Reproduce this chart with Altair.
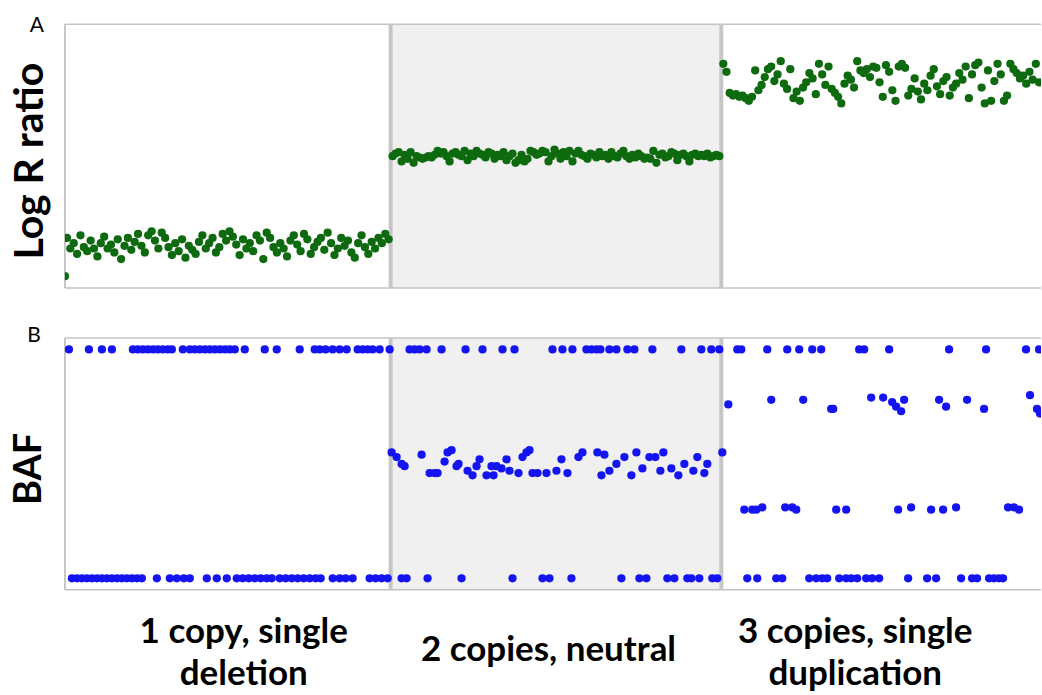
import altair as alt
import numpy as np
import pandas as pd

# ---------------- data ----------------
# region boundaries along the genomic position axis (arbitrary units)
region_edges = [0, 326, 657, 977]
region_labels = ["1 copy, single\ndeletion", "2 copies, neutral", "3 copies, single\nduplication"]

# Log R ratio values, one list per region (probes evenly spaced)
lrr_r1 = [-0.62, -0.70, -0.66, -0.74, -0.60, -0.69, -0.72, -0.64, -0.70, -0.76,
          -0.66, -0.61, -0.70, -0.67, -0.73, -0.63, -0.78, -0.68, -0.62, -0.71,
          -0.65, -0.59, -0.68, -0.73, -0.60, -0.57, -0.64, -0.70, -0.58, -0.62,
          -0.69, -0.75, -0.66, -0.72, -0.63, -0.77, -0.68, -0.71, -0.74, -0.65,
          -0.60, -0.70, -0.66, -0.62, -0.73, -0.69, -0.59, -0.64, -0.57, -0.61,
          -0.67, -0.75, -0.63, -0.70, -0.66, -0.72, -0.60, -0.64, -0.78, -0.58,
          -0.62, -0.69, -0.73, -0.66, -0.70, -0.76, -0.64, -0.60, -0.67, -0.72,
          -0.59, -0.63, -0.74, -0.69, -0.65, -0.62, -0.71, -0.58, -0.66, -0.75,
          -0.70, -0.62, -0.68, -0.64, -0.73, -0.77, -0.66, -0.60, -0.69, -0.74,
          -0.65, -0.70, -0.62, -0.66, -0.59, -0.63]
lrr_r2 = [0.00, 0.02, 0.03, -0.04, 0.01, -0.02, 0.03, -0.05, 0.00, -0.01,
          -0.02, -0.01, 0.00, -0.01, 0.01, 0.04, 0.02, 0.03, 0.00, -0.04,
          0.02, 0.03, 0.01, 0.00, 0.04, -0.03, 0.02, 0.00, 0.04, 0.02,
          0.01, -0.01, 0.03, 0.02, -0.02, 0.01, 0.00, 0.03, -0.03, 0.00,
          0.02, -0.05, -0.03, 0.01, -0.04, -0.02, 0.04, 0.03, 0.01, 0.02,
          0.04, 0.03, -0.04, 0.00, 0.05, 0.02, -0.02, 0.03, 0.00, 0.04,
          -0.04, 0.02, 0.04, 0.01, 0.00, -0.02, 0.02, 0.01, -0.01, 0.03,
          0.00, 0.01, -0.02, 0.03, 0.00, -0.01, 0.02, 0.04, 0.00, -0.02,
          0.01, -0.01, 0.02, 0.00, -0.02, -0.01, -0.02, 0.04, -0.05, 0.01,
          0.02, -0.01, 0.00, 0.03, 0.02, -0.03, 0.01, 0.02, 0.00, -0.04,
          0.01, 0.02, 0.00, 0.01, 0.00, 0.02, -0.01, 0.00, 0.01, 0.00]
lrr_r3 = [0.70, 0.64, 0.48, 0.46, 0.47, 0.45, 0.46, 0.44, 0.42, 0.45,
          0.65, 0.50, 0.54, 0.60, 0.66, 0.68, 0.57, 0.62, 0.72, 0.55,
          0.51, 0.66, 0.44, 0.49, 0.42, 0.52, 0.56, 0.63, 0.59, 0.47,
          0.70, 0.62, 0.54, 0.68, 0.51, 0.48, 0.45, 0.40, 0.55, 0.61,
          0.58, 0.52, 0.72, 0.65, 0.63, 0.66, 0.60, 0.68, 0.67, 0.56,
          0.45, 0.69, 0.64, 0.50, 0.42, 0.68, 0.70, 0.67, 0.46, 0.51,
          0.59, 0.49, 0.43, 0.55, 0.50, 0.61, 0.66, 0.53, 0.47, 0.57,
          0.60, 0.46, 0.52, 0.55, 0.63, 0.58, 0.68, 0.44, 0.62, 0.69,
          0.71, 0.52, 0.40, 0.65, 0.42, 0.57, 0.70, 0.62, 0.42, 0.46,
          0.70, 0.66, 0.63, 0.59, 0.61, 0.55, 0.64, 0.58, 0.70, 0.56]
lrr_extra_pos = [0]
lrr_extra_val = [-0.91]

# B allele frequency
baf_one_pos = [4, 24, 37, 47, 68, 73, 78, 83, 88, 93, 98, 103, 107, 118, 125, 130, 135, 140,
               145, 150, 155, 160, 165, 170, 180, 200, 212, 235, 250, 255, 261, 268, 275, 282,
               293, 298, 303, 308, 315, 325,
               345, 350, 355, 362, 377, 401, 418, 438, 450, 488, 498, 508, 522, 527, 532, 536,
               545, 552, 563, 570, 588, 617, 637, 647, 655,
               673, 677, 703, 723, 735, 748, 757, 795, 800, 825, 885, 922, 962, 975]
baf_zero_pos = [7, 12, 17, 22, 27, 32, 37, 42, 47, 52, 57, 62, 67, 72, 77, 92, 105, 112, 119,
                125, 142, 152, 162, 172, 178, 184, 190, 196, 202, 207, 215, 221, 227, 233, 239,
                245, 251, 256, 268, 275, 281, 288, 305, 311, 317, 323,
                337, 342, 363, 397, 448, 478, 485, 507, 557, 575, 582, 603, 610, 623, 627, 635,
                648, 653,
                683, 693, 712, 718, 745, 752, 758, 763, 775, 782, 787, 793, 802, 808, 815, 844,
                863, 872, 897, 908, 913, 925, 930, 935, 939]
baf_het_pos = [327, 332, 337, 340, 357, 365, 370, 373, 380, 383, 387, 392, 394, 403, 408, 412,
               415, 422, 427, 429, 432, 437, 442, 445, 454, 458, 462, 465, 468, 473, 482, 492,
               497, 503, 514, 518, 533, 540, 537, 545, 552, 560, 567, 572, 578, 585, 591, 596,
               599, 607, 614, 620, 629, 633, 640, 643, 658]
baf_het_val = [0.55, 0.53, 0.50, 0.49, 0.54, 0.46, 0.46, 0.46, 0.51, 0.55, 0.56, 0.49, 0.50,
               0.47, 0.45, 0.49, 0.52, 0.45, 0.49, 0.45, 0.49, 0.48, 0.52, 0.47, 0.46, 0.53,
               0.55, 0.56, 0.46, 0.46, 0.46, 0.47, 0.52, 0.46, 0.53, 0.55, 0.55, 0.54, 0.45,
               0.47, 0.50, 0.53, 0.45, 0.55, 0.48, 0.53, 0.53, 0.47, 0.55, 0.48, 0.45, 0.50,
               0.47, 0.53, 0.46, 0.50, 0.55]
baf_dup_hi_pos = [664, 707, 739, 767, 769, 807, 819, 828, 832, 837, 840, 875, 882, 903, 920,
                  966, 973, 976]
baf_dup_hi_val = [0.76, 0.78, 0.78, 0.74, 0.74, 0.79, 0.79, 0.77, 0.75, 0.73, 0.78, 0.78, 0.75,
                  0.78, 0.74, 0.80, 0.74, 0.72]
baf_dup_lo_pos = [680, 688, 692, 698, 721, 728, 732, 772, 782, 834, 847, 867, 879, 892, 944,
                  950, 955]
baf_dup_lo_val = [0.30, 0.30, 0.30, 0.31, 0.31, 0.31, 0.30, 0.30, 0.30, 0.30, 0.31, 0.30, 0.30,
                  0.31, 0.31, 0.31, 0.30]

# ---------------- tables ----------------
lrr_pos, lrr_val = list(lrr_extra_pos), list(lrr_extra_val)
for (a, b), vals in zip(zip(region_edges[:-1], region_edges[1:]), [lrr_r1, lrr_r2, lrr_r3]):
    lrr_pos += list(np.linspace(a + 2, b - 2, len(vals)))
    lrr_val += vals
lrr_df = pd.DataFrame({"pos": lrr_pos, "val": lrr_val})

baf_df = pd.DataFrame({
    "pos": baf_one_pos + baf_zero_pos + baf_het_pos + baf_dup_hi_pos + baf_dup_lo_pos,
    "val": [1.0] * len(baf_one_pos) + [0.0] * len(baf_zero_pos) + baf_het_val
           + baf_dup_hi_val + baf_dup_lo_val,
})

shade_df = pd.DataFrame({"x0": [region_edges[1]], "x1": [region_edges[2]]})
div_df = pd.DataFrame({"b": region_edges[1:3]})
label_x = [179, 484, 791]
label_df = pd.DataFrame({"label": region_labels, "lx": label_x})
label_df["multi"] = label_df["label"].str.contains("\n")
one = pd.DataFrame({"d": [0]})

W = 977
HA, HB = 264, 252
LEFT, TOP, BOTTOM = 65, 24, 105
FONT = "Lato"
BORDER = "#c3c3c3"

xscale = alt.Scale(domain=[region_edges[0], region_edges[-1]], nice=False, zero=False)


def frame(h):
    shade = alt.Chart(shade_df).mark_rect(color="#f0f0f0").encode(
        x=alt.X("x0:Q", scale=xscale, axis=None), x2="x1:Q",
        y=alt.value(0), y2=alt.value(h))
    top = alt.Chart(one).mark_rule(color=BORDER, strokeWidth=1.5).encode(
        x=alt.value(0), x2=alt.value(W), y=alt.value(0))
    bot = alt.Chart(one).mark_rule(color=BORDER, strokeWidth=1.5).encode(
        x=alt.value(0), x2=alt.value(W), y=alt.value(h))
    left = alt.Chart(one).mark_rule(color="#b5b5b5", strokeWidth=1.5).encode(
        x=alt.value(0), y=alt.value(0), y2=alt.value(h))
    div = alt.Chart(div_df).mark_rule(color="#c6c6c6", strokeWidth=4).encode(
        x=alt.X("b:Q", scale=xscale, axis=None), y=alt.value(0), y2=alt.value(h))
    return [shade, top, bot, left, div]


def spacer(y0, y1):
    # invisible box that fixes the page extent (margins around the panels)
    return alt.Chart(one).mark_rect(opacity=0).encode(
        x=alt.value(-LEFT), x2=alt.value(W), y=alt.value(y0), y2=alt.value(y1))


def side_text(txt, x, y, size, angle=0, weight="bold"):
    return alt.Chart(one).mark_text(
        text=txt, font=FONT, fontSize=size, fontWeight=weight, angle=angle,
        align="center", baseline="middle", color="black").encode(
        x=alt.value(x), y=alt.value(y))


pts_a = alt.Chart(lrr_df).mark_circle(size=68, color="#0e6a0e", opacity=1, clip=True).encode(
    x=alt.X("pos:Q", scale=xscale, axis=None),
    y=alt.Y("val:Q", scale=alt.Scale(domain=[-1, 1], nice=False, zero=False), axis=None))

panel_a = alt.layer(
    spacer(-TOP, HA), *frame(HA), pts_a,
    side_text("A", -28, 2, 21, weight="normal"),
    side_text("Log R ratio", -34, 137, 41, angle=270),
).properties(width=W, height=HA)

pts_b = alt.Chart(baf_df).mark_circle(size=68, color="#1414f0", opacity=1, clip=True).encode(
    x=alt.X("pos:Q", scale=xscale, axis=None),
    y=alt.Y("val:Q", scale=alt.Scale(domain=[-0.05, 1.05], nice=False, zero=False), axis=None))


def label_layer(multi, y):
    return alt.Chart(label_df).transform_filter(
        alt.datum.multi == multi
    ).mark_text(
        font=FONT, fontSize=35, fontWeight="bold", lineBreak="\n", lineHeight=42,
        align="center", baseline="middle", color="black").encode(
        x=alt.X("lx:Q", scale=xscale, axis=None), y=alt.value(y), text="label:N")


panel_b = alt.layer(
    spacer(0, HB + BOTTOM), *frame(HB), pts_b,
    label_layer(True, 294), label_layer(False, 312),
    side_text("B", -31, -2, 21, weight="normal"),
    side_text("BAF", -35, 131, 38, angle=270),
).properties(width=W, height=HB)

chart = alt.vconcat(panel_a, panel_b, spacing=50, bounds="flush").properties(
    padding=0,
).configure_view(stroke=None)

chart.save("out.html", embed_options={"renderer": "svg", "actions": False})
